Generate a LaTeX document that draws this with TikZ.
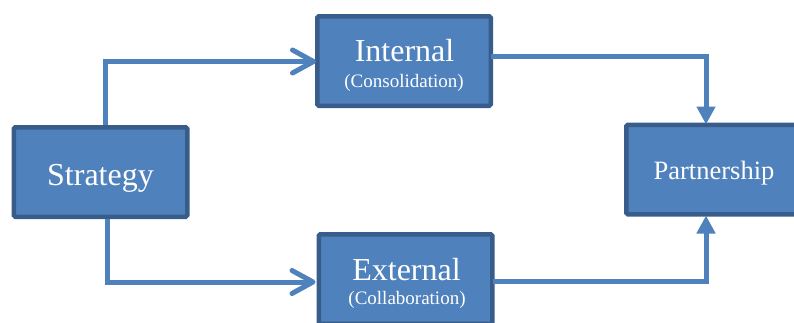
\documentclass[tikz,border=0pt]{standalone}
\usepackage{fontspec}
\setmainfont{Liberation Serif}
\usetikzlibrary{arrows.meta,calc}
\definecolor{boxfill}{HTML}{4F81BD}
\definecolor{boxline}{HTML}{385D8A}
\definecolor{flow}{HTML}{4F81BD}
\tikzset{
  block/.style={draw=boxline, fill=boxfill, line width=4.5pt, rounded corners=1.5pt,
    minimum width=173.5pt, minimum height=89.5pt, inner sep=0pt},
  lbl/.style={text=white, anchor=base, inner sep=0pt},
  big/.style={lbl, font=\fontsize{32}{32}\selectfont},
  mid/.style={lbl, font=\fontsize{26.5}{26.5}\selectfont},
  small/.style={lbl, font=\fontsize{19}{19}\selectfont},
  branch/.style={draw=flow, line width=5pt, -{Straight Barb[length=21pt, width=23pt, line width=5pt, round]}},
  merge/.style={draw=flow, line width=5pt, -{Triangle[length=18pt, width=18pt]}},
}
\begin{document}
\begin{tikzpicture}[x=1pt, y=-1pt]
  \useasboundingbox (0,0) rectangle (794,322);
  \clip (0,0) rectangle (794,322);

  % boxes
  \node[block] (strat) at (100.5,172) {};
  \node[block] (intern) at (404,61) {};
  \node[block] (extern) at (405.5,279) {};
  \node[block] (partner) at (713,169.5) {};

  % labels
  \node[big] (tstrat) at (100.5,185) {Strategy};
  \node[big] (tintern) at (404.5,61) {Internal};
  \node[small] (tcons) at (404,87) {(Consolidation)};
  \node[big] (textern) at (406.5,280) {External};
  \node[small] (tcoll) at (407,304) {(Collaboration)};
  \node[mid] (tpartner) at (714,179) {Partnership};

  % connectors
  \draw[branch] ([xshift=4.5pt]strat.north) |- ([xshift=1pt,yshift=-0.5pt]intern.west);
  \draw[branch] ([xshift=6.5pt]strat.south) |- ([xshift=-1pt,yshift=-3pt]extern.west);
  \draw[merge] ([xshift=-2pt,yshift=5pt]intern.east) -| ([xshift=-7pt,yshift=-2pt]partner.north);
  \draw[merge] ([xshift=-2pt,yshift=-2.5pt]extern.east) -| ([xshift=-7pt,yshift=1pt]partner.south);
\end{tikzpicture}
\end{document}
